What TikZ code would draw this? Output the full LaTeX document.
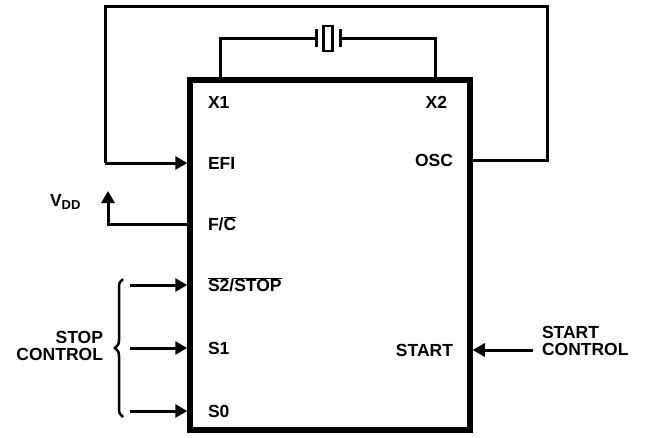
\documentclass[tikz,border=0pt]{standalone}
\usepackage{fontspec}
\setmainfont{Liberation Sans}
\usetikzlibrary{arrows.meta,decorations.pathreplacing}
\newcommand\ovl[1]{$\overline{\hbox{#1}}$}
\begin{document}
\begin{tikzpicture}[x=1pt,y=-1pt,
  lbl/.style={font=\fontsize{17.5}{16.5}\selectfont\bfseries, inner sep=0pt, outer sep=0pt},
  wire/.style={line width=3pt},
  arr/.style={line width=3pt, -{Triangle[length=12pt,width=13pt]}},
  chipbox/.style={draw, line width=5.5pt, minimum width=280pt, minimum height=350pt, inner sep=0pt, outer sep=2.75pt}]
\useasboundingbox (0,0) rectangle (647,437);
\node[chipbox] (chip) at (330,255) {};
% pin labels
\node[lbl, anchor=west] (x1) at (208,102) {X1};
\node[lbl, anchor=east] (x2) at (447,102) {X2};
\node[lbl, anchor=west] (efi) at (208,163) {EFI};
\node[lbl, anchor=east] (osc) at (453,160) {OSC};
\node[lbl, anchor=west] (fc) at (208,224) {F/\ovl{C}};
\node[lbl, anchor=west] (s2) at (208,285) {\ovl{S2}/\ovl{STOP}};
\node[lbl, anchor=west] (s1) at (208,348) {S1};
\node[lbl, anchor=west] (s0) at (208,411) {S0};
\node[lbl, anchor=east] (start) at (453,350) {START};
% outside labels
\node[lbl, anchor=west, align=left] (startctl) at (542,341) {START\\CONTROL};
\node[lbl, anchor=east, align=right] (stopctl) at (103,346) {STOP\\CONTROL};
\node[lbl, anchor=west] (vdd) at (50,202) {V\textsubscript{\fontsize{13}{13}\selectfont DD}};
% crystal
\coordinate (xl) at (220,38);
\coordinate (xr) at (435,38);
\coordinate (pl) at (316,38);
\coordinate (pr) at (340,38);
\node[draw, line width=2.5pt, minimum width=9pt, minimum height=25pt, inner sep=0pt] (xtal) at (328,38.5) {};
\draw[wire] (chip.north -| xl) -- (xl) -- (pl);
\draw[wire] (chip.north -| xr) -- (xr) -- (pr);
\draw[wire] ([yshift=-9pt]pl) -- ([yshift=9pt]pl);
\draw[wire] ([yshift=-9pt]pr) -- ([yshift=9pt]pr);
% outer loop
\coordinate (ltop) at (105,6.5);
\coordinate (rtop) at (547,6.5);
\draw[wire] (chip.east |- osc) -- (rtop |- osc) -- (rtop) -- (ltop) -- (ltop |- efi);
\draw[arr] (ltop |- efi) -- (chip.west |- efi);
% VDD
\coordinate (vd) at (108,191);
\draw[arr] (chip.west |- fc) -- (vd |- fc) -- (vd);
% stop control
\coordinate (sx) at (130,0);
\draw[arr] (sx |- s2) -- (chip.west |- s2);
\draw[arr] (sx |- s1) -- (chip.west |- s1);
\draw[arr] (sx |- s0) -- (chip.west |- s0);
\draw[line width=2.5pt, decorate, decoration={brace, amplitude=8pt, mirror}] (123,279) -- (123,417);
% start
\coordinate (stx) at (533,0);
\draw[arr] (stx |- start) -- (chip.east |- start);
\end{tikzpicture}
\end{document}
